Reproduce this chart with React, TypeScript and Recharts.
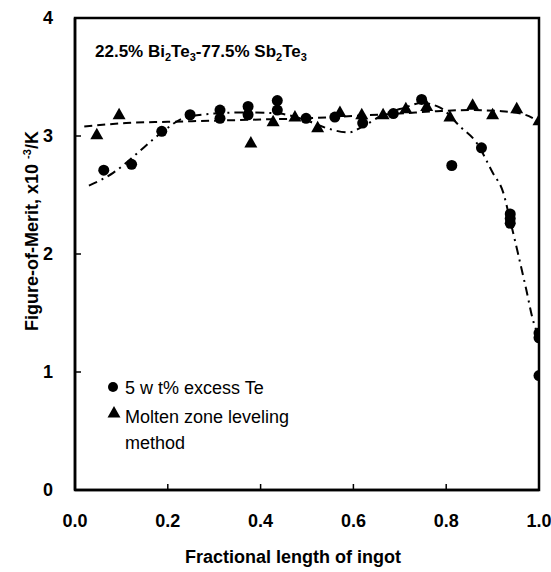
import { ComposedChart, Line, Scatter, XAxis, YAxis, ReferenceArea, Customized } from "recharts";

// 5 wt% excess Te (circles)
const teX = [0.062, 0.122, 0.187, 0.248, 0.3125, 0.3125, 0.373, 0.373, 0.436, 0.436, 0.498, 0.56, 0.62, 0.686, 0.747, 0.812, 0.876, 0.938, 0.938, 0.938, 1.0, 1.0, 1.0];
const teY = [2.71, 2.76, 3.04, 3.18, 3.22, 3.15, 3.25, 3.18, 3.3, 3.22, 3.15, 3.16, 3.11, 3.19, 3.31, 2.75, 2.9, 2.34, 2.3, 2.26, 1.33, 1.29, 0.97];

// Molten zone leveling method (triangles)
const mzX = [0.047, 0.095, 0.379, 0.427, 0.474, 0.523, 0.571, 0.618, 0.664, 0.713, 0.758, 0.808, 0.857, 0.9, 0.952, 1.0];
const mzY = [3.01, 3.18, 2.94, 3.12, 3.16, 3.07, 3.2, 3.18, 3.18, 3.23, 3.25, 3.16, 3.26, 3.18, 3.23, 3.13];

// trend curves
const teFitX = [0.03, 0.083, 0.133, 0.168, 0.2, 0.233, 0.3, 0.375, 0.44, 0.5, 0.54, 0.59, 0.62, 0.664, 0.71, 0.747, 0.787, 0.83, 0.866, 0.9, 0.923, 0.9375, 0.955, 0.973, 0.987, 1.0];
const teFitY = [2.58, 2.69, 2.85, 2.97, 3.07, 3.15, 3.19, 3.2, 3.19, 3.13, 3.07, 3.03, 3.08, 3.18, 3.24, 3.28, 3.24, 3.08, 2.94, 2.69, 2.52, 2.29, 2.0, 1.69, 1.44, 1.3];
const mzFitX = [0.02, 0.11, 0.2, 0.3, 0.4, 0.5, 0.6, 0.7, 0.78, 0.85, 0.92, 0.97, 1.0];
const mzFitY = [3.08, 3.11, 3.12, 3.13, 3.14, 3.15, 3.17, 3.19, 3.21, 3.22, 3.21, 3.18, 3.12];

const xTicks = [0, 0.2, 0.4, 0.6, 0.8, 1.0];
const yTicks = [0, 1, 2, 3, 4];

const zip = (xs: number[], ys: number[]) => xs.map((x, i) => ({ x, y: ys[i] }));

const font = "'Liberation Sans', Arial, Helvetica, sans-serif";

const Dot = (p: any) => <circle cx={p.cx} cy={p.cy} r={5.5} fill="#000" />;
const Tri = (p: any) => (
  <polygon
    points={`${p.cx},${p.cy - 7} ${p.cx - 6.5},${p.cy + 4.5} ${p.cx + 6.5},${p.cy + 4.5}`}
    fill="#000"
  />
);

function Texts() {
  return (
    <g fontFamily={font} fill="#000">
      <text x={95} y={57} fontSize={17} fontWeight="bold">
        22.5% Bi<tspan fontSize={11} dy={4}>2</tspan>
        <tspan dy={-4}>Te</tspan>
        <tspan fontSize={11} dy={4}>3</tspan>
        <tspan dy={-4}>-77.5% Sb</tspan>
        <tspan fontSize={11} dy={4}>2</tspan>
        <tspan dy={-4}>Te</tspan>
        <tspan fontSize={11} dy={4}>3</tspan>
      </text>

      <circle cx={113} cy={387} r={5} />
      <text x={125} y={394} fontSize={18}>5 w t% excess Te</text>
      <polygon points="114,406 107.5,417.5 120.5,417.5" />
      <text x={125} y={423} fontSize={18}>Molten zone leveling</text>
      <text x={125} y={449} fontSize={18}>method</text>

      <text x={293} y={563} fontSize={18} fontWeight="bold" textAnchor="middle">
        Fractional length of ingot
      </text>
      <text
        x={38}
        y={231}
        fontSize={18}
        fontWeight="bold"
        textAnchor="middle"
        transform="rotate(-90 38 231)"
      >
        Figure-of-Merit, x10 <tspan fontSize={11} dy={-7}>-3</tspan>
        <tspan dy={7}>/K</tspan>
      </text>
    </g>
  );
}

export default function App() {
  const tickStyle = { fill: "#000", fontSize: 18, fontWeight: "bold", fontFamily: font };
  return (
    <div style={{ position: "absolute", left: 0, top: 0, background: "#fff" }}>
      <ComposedChart width={551} height={572} margin={{ top: 18, right: 12, left: 0, bottom: 0 }}>
        <XAxis
          dataKey="x"
          type="number"
          domain={[0, 1]}
          ticks={xTicks}
          tickFormatter={(v: number) => v.toFixed(1)}
          height={82}
          tickSize={-6}
          tickMargin={30}
          tick={tickStyle}
          axisLine={{ stroke: "#000", strokeWidth: 2.5 }}
          tickLine={{ stroke: "#000", strokeWidth: 1.5 }}
          allowDataOverflow
        />
        <YAxis
          dataKey="y"
          type="number"
          domain={[0, 4]}
          ticks={yTicks}
          width={75}
          tickSize={-6}
          tickMargin={28}
          tick={tickStyle}
          axisLine={{ stroke: "#000", strokeWidth: 2.5 }}
          tickLine={{ stroke: "#000", strokeWidth: 1.5 }}
          allowDataOverflow
        />
        <ReferenceArea x1={0} x2={1} y1={0} y2={4} fill="none" stroke="#000" strokeWidth={2.5} />
        <Line
          data={zip(mzFitX, mzFitY)}
          dataKey="y"
          type="monotone"
          stroke="#000"
          strokeWidth={2}
          strokeDasharray="8 5"
          dot={false}
          isAnimationActive={false}
        />
        <Line
          data={zip(teFitX, teFitY)}
          dataKey="y"
          type="monotone"
          stroke="#000"
          strokeWidth={2}
          strokeDasharray="9 5 2 5"
          dot={false}
          isAnimationActive={false}
        />
        <Scatter name="5 wt% excess Te" data={zip(teX, teY)} shape={Dot} isAnimationActive={false} />
        <Scatter name="Molten zone leveling method" data={zip(mzX, mzY)} shape={Tri} isAnimationActive={false} />
        <Customized component={Texts} />
      </ComposedChart>
    </div>
  );
}
